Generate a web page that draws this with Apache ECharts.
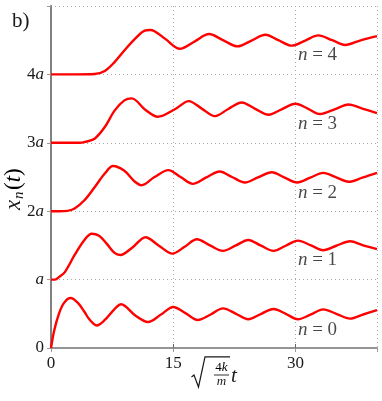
<!DOCTYPE html>
<html><head><meta charset="utf-8">
<script src="https://cdn.jsdelivr.net/npm/echarts@6/dist/echarts.min.js"></script>
<style>html,body{margin:0;padding:0;background:#fff}#c{width:382px;height:401px}</style>
</head><body><div id="c"></div>
<script>
// ---- data (values in units of a) ----
const t_n0 = [0, 0.4, 1.0, 1.6, 2.4, 3.3, 4.1, 4.7, 5.6, 6.6, 7.8, 8.6, 10.3, 11.9, 13.5, 15.0, 16.5, 18.0, 19.6, 21.1, 22.7, 24.2, 25.8, 27.3, 28.8, 30.3, 31.9, 33.4, 35.0, 36.7, 38.3, 40];
const x_n0 = [0, 0.26, 0.51, 0.66, 0.73, 0.66, 0.53, 0.42, 0.33, 0.41, 0.57, 0.64, 0.48, 0.38, 0.49, 0.60, 0.51, 0.41, 0.49, 0.58, 0.50, 0.42, 0.50, 0.57, 0.50, 0.42, 0.49, 0.565, 0.50, 0.43, 0.49, 0.555];

const t_n1 = [0, 0.5, 1.0, 1.7, 2.9, 4.1, 5.0, 5.9, 6.8, 7.8, 8.5, 10.0, 11.6, 13.2, 14.9, 16.4, 17.9, 19.5, 21.1, 22.7, 24.2, 25.7, 27.3, 28.8, 30.3, 31.9, 33.4, 35.0, 36.7, 38.3, 40];
const x_n1 = [1.0, 1.0, 1.04, 1.11, 1.36, 1.58, 1.67, 1.64, 1.53, 1.39, 1.36, 1.47, 1.62, 1.50, 1.38, 1.48, 1.59, 1.50, 1.42, 1.50, 1.58, 1.50, 1.42, 1.495, 1.57, 1.50, 1.43, 1.495, 1.56, 1.50, 1.445];

const t_n2 = [0, 1.0, 2.0, 2.9, 4.1, 5.35, 6.6, 7.6, 9.0, 10.3, 11.1, 12.7, 14.4, 15.9, 17.4, 19.0, 20.7, 22.2, 23.8, 25.4, 27.1, 28.6, 30.2, 31.8, 33.4, 35.0, 36.5, 38.2, 40];
const x_n2 = [2.0, 2.0, 2.005, 2.04, 2.16, 2.35, 2.55, 2.66, 2.59, 2.43, 2.38, 2.50, 2.60, 2.50, 2.40, 2.49, 2.58, 2.50, 2.42, 2.495, 2.57, 2.495, 2.42, 2.49, 2.56, 2.495, 2.43, 2.49, 2.56];

const t_n3 = [0, 2.0, 3.5, 4.1, 5.35, 6.6, 7.8, 9.0, 9.9, 11.6, 13.1, 15.2, 16.9, 18.5, 20.1, 21.7, 23.4, 25.0, 26.7, 28.3, 30.0, 31.5, 33.0, 34.8, 36.5, 38.2, 40];
const x_n3 = [3.0, 3.0, 3.0, 3.01, 3.06, 3.23, 3.47, 3.62, 3.65, 3.48, 3.38, 3.49, 3.61, 3.50, 3.39, 3.49, 3.59, 3.50, 3.41, 3.49, 3.57, 3.50, 3.42, 3.49, 3.56, 3.50, 3.435];

const t_n4 = [0, 3.0, 5.35, 6.6, 7.8, 9.0, 10.3, 11.5, 12.2, 14.0, 15.8, 17.6, 19.4, 21.1, 22.9, 24.6, 26.3, 27.9, 29.5, 31.2, 32.8, 34.5, 36.1, 37.9, 40];
const x_n4 = [4.0, 4.0, 4.005, 4.05, 4.18, 4.35, 4.52, 4.64, 4.65, 4.52, 4.375, 4.48, 4.59, 4.50, 4.41, 4.495, 4.58, 4.50, 4.42, 4.495, 4.57, 4.50, 4.43, 4.495, 4.56];

const yTickLabels = ['0', 'a', '2a', '3a', '4a'];
const labelN = [0, 1, 2, 3, 4];
const labelT = [32.7, 32.7, 32.7, 32.7, 32.7];
const labelY = [0.27, 1.28, 2.26, 3.28, 4.28];

// ---- chart ----
const FONT = '"Liberation Serif", "DejaVu Serif", serif';
const TXT = '#1a1a1a';
const zip = (a, b) => a.map((v, i) => [v, b[i]]);
const curves = [[t_n0, x_n0], [t_n1, x_n1], [t_n2, x_n2], [t_n3, x_n3], [t_n4, x_n4]];

const lineSeries = curves.map(([t, x]) => ({
  type: 'line', xAxisIndex: 0, yAxisIndex: 0,
  data: zip(t, x), showSymbol: false, smooth: 0.33,
  lineStyle: { color: '#ff0000', width: 2.4 }, z: 5, silent: true
}));

const labelSeries = {
  type: 'scatter', xAxisIndex: 0, yAxisIndex: 0, symbolSize: 0, silent: true, z: 6,
  data: labelN.map((n, i) => ({ value: [labelT[i], labelY[i]], n: n })),
  label: {
    show: true, position: 'inside',
    formatter: p => '{i|n}{r| = ' + p.data.n + '}',
    rich: {
      i: { fontFamily: FONT, fontStyle: 'italic', fontSize: 19, color: TXT },
      r: { fontFamily: FONT, fontSize: 19, color: TXT }
    }
  }
};

const chart = echarts.init(document.getElementById('c'), null, { renderer: 'canvas' });
chart.setOption({
  animation: false,
  backgroundColor: '#fff',
  textStyle: { fontFamily: FONT },
  grid: { left: 51, right: 5, top: 6, bottom: 53, containLabel: false },
  xAxis: [{
    type: 'value', min: 0, max: 40, interval: 15,
    axisLine: { lineStyle: { color: '#666', width: 1.5 } },
    axisTick: { show: true, inside: true, length: 4, lineStyle: { color: '#666' } },
    axisLabel: { showMaxLabel: false, margin: 7, fontFamily: FONT, fontSize: 17, color: TXT },
    splitLine: { show: true, lineStyle: { color: '#aaa', width: 1, type: [1, 3] } }
  }, {
    type: 'value', position: 'top', min: 0, max: 40, interval: 15,
    axisLine: { show: true, lineStyle: { color: '#999', width: 1.5 } },
    axisTick: { show: true, inside: true, length: 4, lineStyle: { color: '#999' } },
    axisLabel: { show: false }, splitLine: { show: false }
  }],
  yAxis: [{
    type: 'value', min: 0, max: 5, interval: 1,
    axisLine: { show: true, lineStyle: { color: '#000', width: 1.5 } },
    axisTick: { show: false },
    axisLabel: {
      margin: 7, fontFamily: FONT, fontSize: 17, color: TXT,
      formatter: v => (v < yTickLabels.length ? yTickLabels[v].replace('a', '{i|a}') : ''),
      rich: { i: { fontFamily: FONT, fontStyle: 'italic', fontSize: 17, color: TXT } }
    },
    splitLine: { show: true, lineStyle: { color: '#aaa', width: 1, type: [1, 3] } }
  }, {
    type: 'value', position: 'right', min: 0, max: 5, interval: 1,
    axisLine: { show: true, lineStyle: { color: '#999', width: 1.5 } },
    axisTick: { show: true, inside: true, length: 4, lineStyle: { color: '#999' } },
    axisLabel: { show: false }, splitLine: { show: false }
  }],
  series: [...lineSeries, labelSeries],
  graphic: [
    { type: 'text', left: 12, top: 11, style: { text: 'b)', fontFamily: FONT, fontSize: 21, fill: TXT } },
    {
      type: 'group', x: 14, y: 183, rotation: Math.PI / 2,
      children: [
        { type: 'text', x: -27, y: 0, style: { text: 'x', fontFamily: FONT, fontStyle: 'italic', fontSize: 23, fill: TXT, verticalAlign: 'middle', align: 'left' } },
        { type: 'text', x: -16, y: 5, style: { text: 'n', fontFamily: FONT, fontStyle: 'italic', fontSize: 15, fill: TXT, verticalAlign: 'middle', align: 'left' } },
        { type: 'text', x: -7, y: 0, style: { text: '{a|(}{b|t}{a|)}', verticalAlign: 'middle', align: 'left',
            rich: { a: { fontFamily: FONT, fontSize: 23, color: TXT }, b: { fontFamily: FONT, fontStyle: 'italic', fontSize: 23, color: TXT } } } }
      ]
    },
    {
      type: 'group', x: 191, y: 356,
      children: [
        { type: 'polyline', shape: { points: [[0.5, 21], [3, 19], [7.5, 31], [14, 0.8], [39, 0.8]] }, style: { stroke: TXT, lineWidth: 1.2, fill: null } },
        { type: 'text', x: 30.5, y: 12, style: { text: '{a|4}{b|k}', align: 'center', verticalAlign: 'middle',
            rich: { a: { fontFamily: FONT, fontSize: 13, color: TXT }, b: { fontFamily: FONT, fontStyle: 'italic', fontSize: 13, color: TXT } } } },
        { type: 'line', shape: { x1: 23, y1: 19, x2: 38, y2: 19 }, style: { stroke: TXT, lineWidth: 0.9 } },
        { type: 'text', x: 30.5, y: 25.5, style: { text: 'm', fontFamily: FONT, fontStyle: 'italic', fontSize: 13, fill: TXT, align: 'center', verticalAlign: 'middle' } },
        { type: 'text', x: 40, y: 20, style: { text: 't', fontFamily: FONT, fontStyle: 'italic', fontSize: 21, fill: TXT, align: 'left', verticalAlign: 'middle' } }
      ]
    }
  ]
});
</script></body></html>
